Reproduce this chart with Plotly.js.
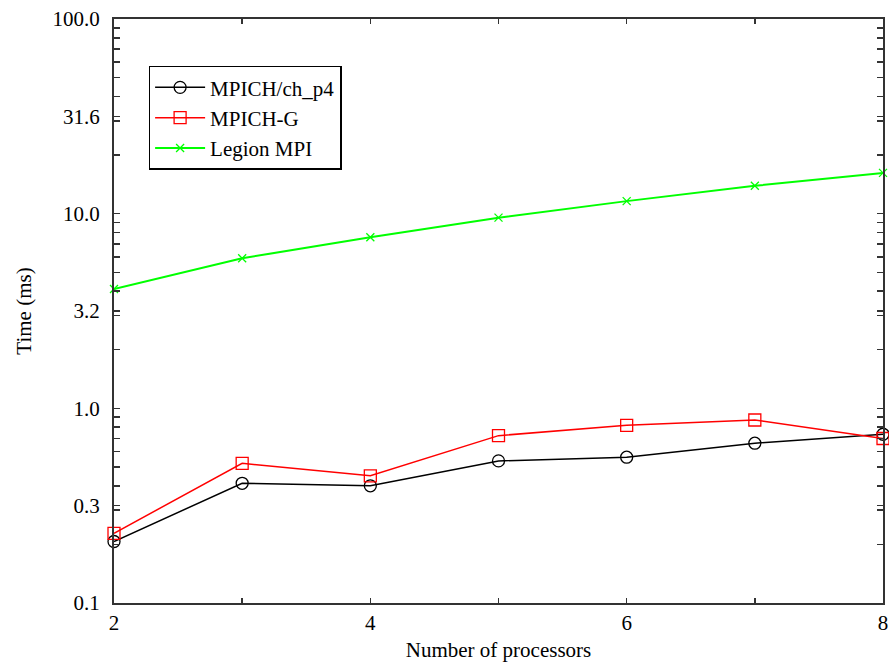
<!DOCTYPE html>
<html>
<head>
<meta charset="utf-8">
<script src="https://cdn.plot.ly/plotly-3.0.1.min.js"></script>
<style>html,body{margin:0;padding:0;background:#fff;}#chart{width:889px;height:671px;}</style>
</head>
<body>
<div id="chart"></div>
<script>
const processors = [2, 3, 4, 5, 6, 7, 8];
const mpichP4 = [0.207, 0.412, 0.40, 0.537, 0.561, 0.662, 0.736];
const mpichG = [0.228, 0.522, 0.45, 0.724, 0.818, 0.871, 0.70];
const legionMPI = [4.1, 5.9, 7.57, 9.54, 11.6, 13.9, 16.2];
const yLabelVals = [0.1, 0.316, 1, 3.16, 10, 31.6, 100];
const yLabelText = ["0.1", "0.3", "1.0", "3.2", "10.0", "31.6", "100.0"];
const xTickVals = [2, 3, 4, 5, 6, 7, 8];
const xTickText = ["2", "", "4", "", "6", "", "8"];

// y ticks: labelled half-decade ticks plus unlabelled log minor ticks
const yTickVals = yLabelVals.slice();
const yTickText = yLabelText.slice();
[0.1, 1, 10].forEach(d => { for (let k = 2; k <= 9; k++) { yTickVals.push(d * k); yTickText.push(""); } });

const fontFam = "Liberation Serif, Times New Roman, serif";
const traces = [
  {x: processors, y: mpichP4, name: "MPICH/ch_p4", mode: "lines+markers", cliponaxis: false,
   line: {color: "#000000", width: 1.5},
   marker: {symbol: "circle-open", size: 12, color: "#000000", line: {width: 1.3}}},
  {x: processors, y: mpichG, name: "MPICH-G", mode: "lines+markers", cliponaxis: false,
   line: {color: "#ff0000", width: 1.5},
   marker: {symbol: "square-open", size: 12, color: "#ff0000", line: {width: 1.3}}},
  {x: processors, y: legionMPI, name: "Legion MPI", mode: "lines+markers", cliponaxis: false,
   line: {color: "#00ff00", width: 2},
   marker: {symbol: "x-thin-open", size: 8, color: "#00ff00", line: {width: 1.3, color: "#00ff00"}}}
];

const layout = {
  width: 889, height: 671,
  margin: {l: 114, r: 6, t: 19, b: 68},
  paper_bgcolor: "#ffffff", plot_bgcolor: "#ffffff",
  font: {family: fontFam, size: 21, color: "#000"},
  showlegend: true,
  legend: {x: 0.045, y: 0.92, xanchor: "left", yanchor: "top",
           bordercolor: "#000", borderwidth: 1.5, bgcolor: "#fff", itemwidth: 50,
           font: {family: fontFam, size: 21, color: "#000"}, tracegroupgap: 0},
  xaxis: {range: [2, 8], tickmode: "array", tickvals: xTickVals, ticktext: xTickText, ticks: "inside", ticklen: 5,
          showgrid: false, zeroline: false, showline: true, linecolor: "#333", linewidth: 2, mirror: "ticks",
          tickcolor: "#333", tickwidth: 1.5, tickfont: {family: fontFam, size: 21},
          title: {text: "Number of processors", font: {family: fontFam, size: 21}, standoff: 8}},
  yaxis: {type: "log", range: [-1, 2], tickmode: "array", tickvals: yTickVals, ticktext: yTickText,
          ticks: "inside", ticklen: 6, tickcolor: "#333", tickwidth: 1.5, showgrid: false, zeroline: false, showline: true,
          linecolor: "#333", linewidth: 2, mirror: "ticks", tickfont: {family: fontFam, size: 21},
          ticklabelstandoff: 8,
          title: {text: "Time (ms)", font: {family: fontFam, size: 21}, standoff: 15}}
};

Plotly.newPlot("chart", traces, layout, {displayModeBar: false, staticPlot: true});
</script>
</body>
</html>
